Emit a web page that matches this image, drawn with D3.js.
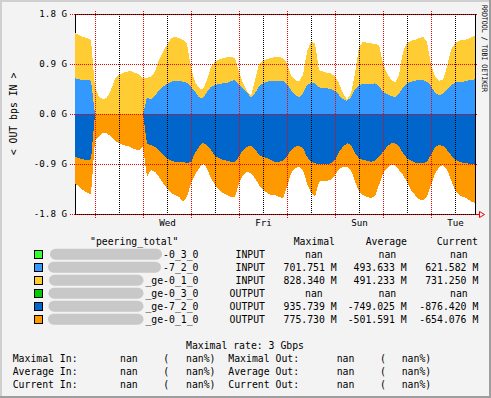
<!DOCTYPE html>
<html>
<head>
<meta charset="utf-8">
<script src="https://cdn.jsdelivr.net/npm/d3@7"></script>
<style>
  body { margin: 0; background: #fff; }
  svg { display: block; }
  text { font-family: "DejaVu Sans Mono", monospace; fill: #000; }
</style>
</head>
<body>
<div id="chart"></div>
<script>
// samples every 2 hours, in Mbps
const startTime = new Date(2024, 0, 1, 14);
const stepHours = 2;

const inBlue = [643,625,612,612,599, 0,0,0,0,0,0,0,0,0,0,0,0,0, 301,265,324,432,491,540,581,594,
  594,581,563,491,401,301,283,401,491,522,540,553,563,594,612,522,463,383,301,373,504,553,581,599,599,
  599,594,540,432,342,301,373,522,563,553,481,463,463,445,419,342,265,239,301,445,522,540,540,540,553,
  504,401,360,324,301,373,481,553,581,599,612,612,581,504,383,342,360,445,522,563,581,581,599,612,625];

const inYellow = [810,797,779,751,733, 468,311,265,301,432,643,702,743,761,774,743,720,643, 347,407,437,540,630,702,781,797,
  769,751,709,331,180,162,162,211,360,419,445,450,457,437,391,239,90,30,23,239,396,401,409,409,427,
  432,409,373,270,270,281,329,599,738,720,311,299,281,288,252,211,108,25,72,288,689,761,743,733,707,
  738,511,373,301,263,329,641,720,738,733,751,779,720,378,288,257,252,407,630,709,738,751,745,769,779];

const outDark = [-769,-797,-815,-828,-815, 0,0,0,0,0,0,0,0,0,0,0,0,0, -540,-558,-589,-648,-738,-797,-841,-859,
  -859,-859,-887,-859,-707,-589,-517,-558,-648,-756,-797,-828,-841,-859,-859,-769,-648,-589,-576,-635,-738,-769,-797,-828,-859,
  -859,-841,-769,-648,-589,-576,-617,-769,-859,-887,-900,-900,-900,-887,-828,-679,-589,-527,-558,-707,-797,-828,-841,-859,-845,
  -769,-679,-589,-527,-527,-576,-707,-797,-841,-877,-887,-887,-859,-738,-599,-558,-576,-648,-738,-815,-859,-877,-887,-900,-900];

const outOrange = [-479,-511,-553,-589,-625, -468,-409,-337,-347,-409,-481,-527,-558,-576,-599,-635,-648,-589, -589,-450,-450,-481,-509,-540,-576,-599,
  -630,-720,-601,-389,-391,-389,-371,-419,-509,-522,-571,-599,-617,-641,-630,-479,-450,-450,-491,-522,-540,-599,-619,-630,-599,
  -630,-677,-540,-419,-389,-373,-391,-479,-558,-601,-319,-301,-301,-301,-270,-317,-360,-421,-450,-511,-601,-630,-648,-659,-630,
  -509,-389,-389,-391,-391,-432,-391,-421,-527,-581,-648,-673,-630,-540,-481,-401,-342,-347,-450,-553,-599,-612,-630,-679,-697];

const yTicks = [-1800, -900, 0, 900, 1800];

const legendNames = ["-0_3_0", "-7_2_0", "_ge-0_1_0", "_ge-0_3_0", "_ge-7_2_0", "_ge-0_1_0"];
const legendDirs = ["INPUT", "INPUT", "INPUT", "OUTPUT", "OUTPUT", "OUTPUT"];
const legendColors = ["#33FF33", "#3399FF", "#FFCC33", "#00CC00", "#0066CC", "#FF9900"];
const legendMax = ["nan", "701.751 M", "828.340 M", "nan", "935.739 M", "775.730 M"];
const legendAvg = ["nan", "493.633 M", "491.233 M", "nan", "-749.025 M", "-501.591 M"];
const legendCur = ["nan", "621.582 M", "731.250 M", "nan", "-876.420 M", "-654.076 M"];
const rateRows = ["Maximal", "Average", "Current"];

const width = 491, height = 398;
const plotL = 75, plotR = 475, plotT = 14, plotB = 214;

const keys = ["inBlue", "inYellow", "outDark", "outOrange"];
const fills = {inBlue: "#3399FF", inYellow: "#FFCC33", outDark: "#0066CC", outOrange: "#FF9900"};

const table = inBlue.map((v, i) => ({
    time: d3.timeHour.offset(startTime, i * stepHours),
    inBlue: v, inYellow: inYellow[i], outDark: outDark[i], outOrange: outOrange[i]
}));
const endTime = table[table.length - 1].time;

const x = d3.scaleTime().domain([startTime, endTime]).range([plotL, plotR]);
const y = d3.scaleLinear().domain([-1800, 1800]).range([plotB, plotT]);

const series = d3.stack().keys(keys).offset(d3.stackOffsetDiverging)(table);

const svg = d3.select("#chart").append("svg")
    .attr("width", width).attr("height", height);

// background + shaded border
svg.append("rect").attr("width", width).attr("height", height).attr("fill", "#F3F3F3");
svg.append("rect").attr("x", 0).attr("y", 0).attr("width", width).attr("height", 2).attr("fill", "#CFCFCF");
svg.append("rect").attr("x", 0).attr("y", 0).attr("width", 2).attr("height", height).attr("fill", "#CFCFCF");
svg.append("rect").attr("x", 0).attr("y", height - 2).attr("width", width).attr("height", 2).attr("fill", "#9E9E9E");
svg.append("rect").attr("x", width - 2).attr("y", 0).attr("width", 2).attr("height", height).attr("fill", "#9E9E9E");

svg.append("rect").attr("x", plotL).attr("y", plotT)
    .attr("width", plotR - plotL).attr("height", plotB - plotT).attr("fill", "#fff");

// left axis line (data covers it)
svg.append("line").attr("x1", plotL + 0.5).attr("x2", plotL + 0.5)
    .attr("y1", plotT).attr("y2", plotB).attr("stroke", "#000").attr("shape-rendering", "crispEdges");

const area = d3.area()
    .x(d => x(d.data.time))
    .y0(d => y(d[0]))
    .y1(d => y(d[1]));

svg.append("g").selectAll("path")
    .data(series)
    .enter()
    .append("path")
    .attr("d", area)
    .attr("fill", d => fills[d.key])
    .attr("shape-rendering", "crispEdges");

// frame
const frame = svg.append("g").attr("stroke", "#000").attr("shape-rendering", "crispEdges");
frame.append("line").attr("x1", plotL).attr("x2", plotR + 1).attr("y1", plotT + 0.5).attr("y2", plotT + 0.5);
frame.append("line").attr("x1", plotL).attr("x2", plotR + 1).attr("y1", plotB + 0.5).attr("y2", plotB + 0.5);
frame.append("line").attr("x1", plotR + 0.5).attr("x2", plotR + 0.5).attr("y1", plotT).attr("y2", plotB);

// minor grid: noon
const noons = d3.timeHour.range(startTime, endTime).filter(d => d.getHours() === 12);
svg.append("g").selectAll("line")
    .data(noons)
    .enter()
    .append("line")
    .attr("x1", d => Math.round(x(d)) + 0.5)
    .attr("x2", d => Math.round(x(d)) + 0.5)
    .attr("y1", plotT).attr("y2", plotB + 1)
    .attr("stroke", "#000")
    .attr("stroke-dasharray", "1,1")
    .attr("shape-rendering", "crispEdges");

// major grid: midnight
const days = d3.timeDay.range(startTime, endTime);
svg.append("g").selectAll("line")
    .data(days)
    .enter()
    .append("line")
    .attr("x1", d => Math.round(x(d)) + 0.5)
    .attr("x2", d => Math.round(x(d)) + 0.5)
    .attr("y1", plotT - 3).attr("y2", plotB + 4)
    .attr("stroke", "#F00000")
    .attr("stroke-dasharray", "1,1")
    .attr("shape-rendering", "crispEdges");

svg.append("g").selectAll("line")
    .data(yTicks)
    .enter()
    .append("line")
    .attr("x1", plotL - 5).attr("x2", plotR + 3)
    .attr("y1", d => Math.round(y(d)) + 0.5)
    .attr("y2", d => Math.round(y(d)) + 0.5)
    .attr("stroke", "#F00000")
    .attr("stroke-dasharray", "1,1")
    .attr("shape-rendering", "crispEdges");

// arrow at the end of the x axis
svg.append("path")
    .attr("d", `M${plotR + 1},${plotB + 0.5}H${plotR + 4.5}M${plotR + 4.5},${plotB - 2.5}L${plotR + 9.5},${plotB + 0.5}L${plotR + 4.5},${plotB + 3.5}Z`)
    .attr("fill", "none").attr("stroke", "#F00000");

// axes
const yAxis = svg.append("g")
    .attr("transform", `translate(${plotL},0)`)
    .call(d3.axisLeft(y).tickValues(yTicks).tickSize(0).tickPadding(8)
        .tickFormat(d => (d / 1000).toFixed(1) + " G"));
yAxis.select(".domain").remove();
yAxis.selectAll("text").attr("font-family", "DejaVu Sans Mono").attr("font-size", 9.2).attr("fill", "#000");

const labelDays = d3.timeDay.every(2).range(startTime, endTime).map(d => d3.timeHour.offset(d, 12));
const xAxis = svg.append("g")
    .attr("transform", `translate(0,${plotB})`)
    .call(d3.axisBottom(x).tickValues(labelDays).tickSize(0).tickPadding(5)
        .tickFormat(d3.timeFormat("%a")));
xAxis.select(".domain").remove();
xAxis.selectAll("text").attr("font-family", "DejaVu Sans Mono").attr("font-size", 9.2).attr("fill", "#000");

// titles
svg.append("text")
    .attr("transform", "translate(17,114) rotate(-90)")
    .attr("text-anchor", "middle")
    .attr("font-size", 9.8)
    .text("< OUT bps IN >");

svg.append("text")
    .attr("transform", "translate(482,5) rotate(90)")
    .attr("font-size", 7.5)
    .attr("textLength", 87)
    .attr("lengthAdjust", "spacingAndGlyphs")
    .text("RRDTOOL / TOBI OETIKER");

// legend
const lg = svg.append("g").attr("font-size", 9.8);
lg.append("text").attr("x", 90).attr("y", 245).text('"peering_total"');
lg.append("text").attr("x", 335).attr("y", 245).attr("text-anchor", "end").text("Maximal");
lg.append("text").attr("x", 407).attr("y", 245).attr("text-anchor", "end").text("Average");
lg.append("text").attr("x", 478).attr("y", 245).attr("text-anchor", "end").text("Current");

const blobStart = [50, 48, 49, 48.5, 48.5, 48];
const blobEnd = [162, 161, 143.5, 143.5, 143.5, 143.5];

legendNames.forEach((name, i) => {
    const base = 258 + 13 * i;
    const mid = base - 3.8;
    lg.append("rect")
        .attr("x", 34.5).attr("y", Math.round(mid - 4) + 0.5)
        .attr("width", 8).attr("height", 8)
        .attr("fill", legendColors[i]).attr("stroke", "#000")
        .attr("shape-rendering", "crispEdges");
    lg.append("rect")
        .attr("x", blobStart[i]).attr("y", mid - 5.5)
        .attr("width", blobEnd[i] - blobStart[i]).attr("height", 11)
        .attr("rx", 5.5)
        .attr("fill", "#C8C8C8");
    lg.append("text").attr("x", 198.5).attr("y", base).attr("text-anchor", "end").text(name);
    lg.append("text").attr("x", 265).attr("y", base).attr("text-anchor", "end").text(legendDirs[i]);
    [[legendMax[i], 336.7, 305], [legendAvg[i], 406.7, 378.5], [legendCur[i], 478.3, 450]].forEach(([v, xe, xs]) => {
        if (v === "nan") lg.append("text").attr("x", xs).attr("y", base).text(v);
        else lg.append("text").attr("x", xe).attr("y", base).attr("text-anchor", "end").text(v);
    });
});

// rate block
lg.append("text").attr("x", 245).attr("y", 349).attr("text-anchor", "middle").text("Maximal rate: 3 Gbps");
rateRows.forEach((r, i) => {
    const base = 362 + 12.8 * i;
    lg.append("text").attr("x", 12.7).attr("y", base).text(r + " In:");
    lg.append("text").attr("x", 120).attr("y", base).text("nan");
    lg.append("text").attr("x", 163.3).attr("y", base).text("(");
    lg.append("text").attr("x", 186).attr("y", base).text("nan%)");
    lg.append("text").attr("x", 228.3).attr("y", base).text(r + " Out:");
    lg.append("text").attr("x", 336.7).attr("y", base).text("nan");
    lg.append("text").attr("x", 380).attr("y", base).text("(");
    lg.append("text").attr("x", 401.7).attr("y", base).text("nan%)");
});
</script>
</body>
</html>
